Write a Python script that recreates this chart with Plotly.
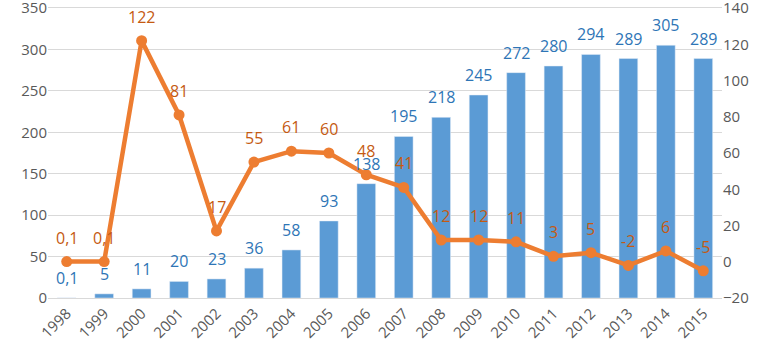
import plotly.graph_objects as go

years = list(range(1998, 2016))
bar_values = [0.1, 5, 11, 20, 23, 36, 58, 93, 138, 195, 218, 245, 272, 280, 294, 289, 305, 289]
line_values = [0.1, 0.1, 122, 81, 17, 55, 61, 60, 48, 41, 12, 12, 11, 3, 5, -2, 6, -5]
left_ticks = [0, 50, 100, 150, 200, 250, 300, 350]
right_ticks = [-20, 0, 20, 40, 60, 80, 100, 120, 140]


def fmt(v):
    return ("%g" % v).replace(".", ",")


FONT = "Open Sans"
AXIS_COL = "#595959"
BAR_COL = "#5B9BD5"
LINE_COL = "#ED7D31"
BAR_TXT = "#2E75B6"
LINE_TXT = "#C55A11"

fig = go.Figure()
fig.add_trace(go.Bar(x=years, y=bar_values, marker=dict(color=BAR_COL), width=0.5,
                     showlegend=False, xaxis="x", yaxis="y"))
fig.add_trace(go.Scatter(x=years, y=line_values, xaxis="x", yaxis="y2", mode="lines+markers",
                         line=dict(color=LINE_COL, width=4.5),
                         marker=dict(color=LINE_COL, size=11),
                         showlegend=False))

annotations = []
for x, v in zip(years, bar_values):
    annotations.append(dict(x=x, y=v, xref="x", yref="y", text=fmt(v), showarrow=False,
                            yshift=20, font=dict(family=FONT, size=16, color=BAR_TXT)))
for x, v in zip(years, line_values):
    annotations.append(dict(x=x, y=v, xref="x", yref="y2", text=fmt(v), showarrow=False,
                            yshift=24, font=dict(family=FONT, size=16, color=LINE_TXT)))

fig.update_layout(
    width=769, height=348,
    margin=dict(l=48, r=47, t=8, b=50, autoexpand=False),
    paper_bgcolor="white", plot_bgcolor="white",
    font=dict(family=FONT, size=15, color=AXIS_COL),
    annotations=annotations,
)
fig.update_xaxes(type="linear", range=[1997.5, 2015.5], autorange=False, tickmode="linear",
                 tick0=1998, dtick=1, tickangle=-45, showgrid=False, showline=True,
                 mirror=True, linecolor="#D9D9D9", linewidth=1, ticks="",
                 tickfont=dict(size=15), automargin=False, zeroline=False,
                 ticklabeloverflow="allow")
fig.update_layout(
    yaxis=dict(type="linear", range=[0, 350], autorange=False, tickmode="array",
               tickvals=left_ticks, showgrid=True, gridcolor="#D9D9D9",
               zeroline=False, ticks="", tickfont=dict(size=15), automargin=False,
               ticklabeloverflow="allow"),
    yaxis2=dict(type="linear", range=[-20, 140], autorange=False, tickmode="array",
                tickvals=right_ticks, overlaying="y", side="right",
                showgrid=False, zeroline=False, ticks="", tickfont=dict(size=15),
                automargin=False, ticklabeloverflow="allow"),
)

fig.write_html("out.html", config={"displayModeBar": False},
               post_script="document.body.style.margin='0';")
